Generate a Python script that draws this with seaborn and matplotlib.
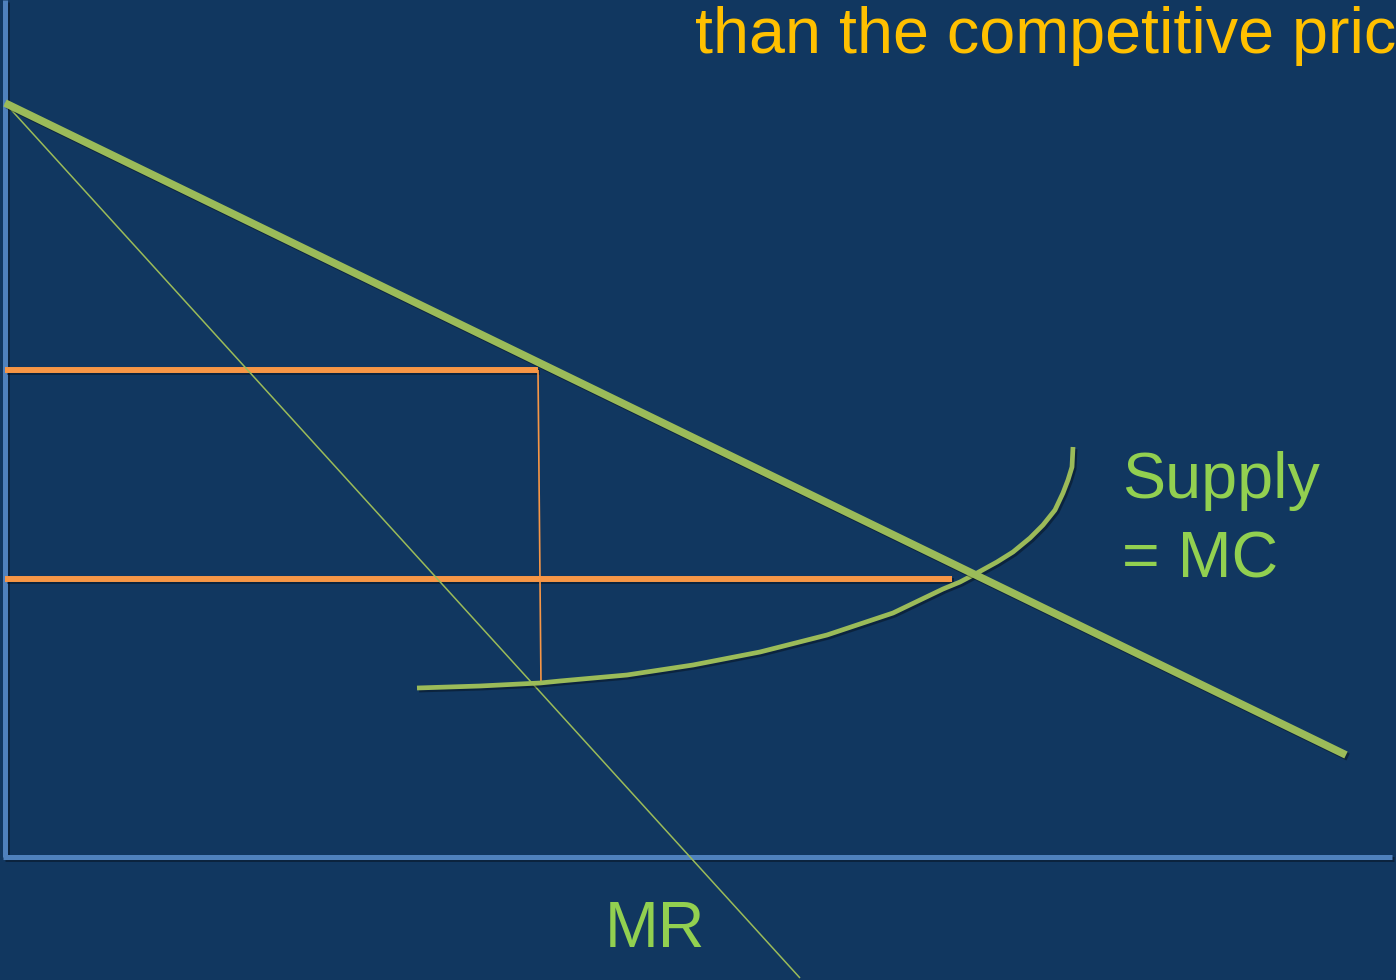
import pandas as pd
import seaborn as sns
import matplotlib.pyplot as plt
import matplotlib.patheffects as pe

sns.set_theme(style='dark')
plt.rcParams['font.family'] = ['Liberation Sans', 'DejaVu Sans']

# 数据 (数量 Q, 价格 P)
demand_q = [0, 1341]
demand_p = [754, 102]

mr_q = [0, 795]
mr_p = [754, -121]

supply_q = [412, 475, 535, 555, 622, 688, 755, 822, 888, 938, 955, 972, 992, 1008,
            1025, 1038, 1050, 1058, 1063, 1067, 1068]
supply_p = [169, 171, 174, 176, 182, 192, 205, 222, 244, 268, 275, 284, 295, 305,
            319, 332, 347, 364, 377, 390, 410]

monopoly_q = 533
monopoly_p = 487
mc_at_monopoly_p = 172
competitive_q = 947
competitive_p = 278

bg = '#113760'
green = '#9BBB59'
orange = '#F79646'
axis_blue = '#4F81BD'

shadow = [pe.SimpleLineShadow(offset=(1.5, -1.5), shadow_color='black', alpha=0.35), pe.Normal()]

fig = plt.figure(figsize=(13.96, 9.8), dpi=100)
fig.patch.set_facecolor(bg)
ax = fig.add_axes([0, 0, 1, 1])
ax.set_facecolor(bg)


def seg(x, y, color, lw, fx=None):
    sns.lineplot(x=x, y=y, ax=ax, color=color, linewidth=lw, sort=False, estimator=None,
                 solid_capstyle='butt', solid_joinstyle='round', path_effects=fx)


# 坐标轴
seg([-0.5, -0.5], [857, 0], axis_blue, 3.6, shadow)
seg([-2, 1387], [0, 0], axis_blue, 3.6, shadow)

# 价格水平线
seg([0, monopoly_q], [monopoly_p, monopoly_p], orange, 4.3, shadow)
seg([0, competitive_q], [competitive_p, competitive_p], orange, 4.3, shadow)
seg([monopoly_q, monopoly_q + 3], [monopoly_p, mc_at_monopoly_p], orange, 1.2)

# MR, 供给, 需求
seg(mr_q, mr_p, green, 1.1)
seg(supply_q, supply_p, green, 3.4, shadow)
seg(demand_q, demand_p, green, 5.5, shadow)

ax.text(690, 804, 'than the competitive price', color='#FFC000', fontsize=46.5, va='baseline')
ax.text(1117, 359, 'Supply', color='#92D050', fontsize=46.5, va='baseline')
ax.text(1117, 280, '= MC', color='#92D050', fontsize=46.5, va='baseline')
ax.text(600, -90, 'MR', color='#92D050', fontsize=46.5, va='baseline')

ax.set_xlim(-5, 1391)
ax.set_ylim(-123, 857)
ax.set_xticks([])
ax.set_yticks([])
ax.set_xlabel('')
ax.set_ylabel('')
for s in ax.spines.values():
    s.set_visible(False)

plt.savefig('out.png', dpi=100, facecolor=bg)
